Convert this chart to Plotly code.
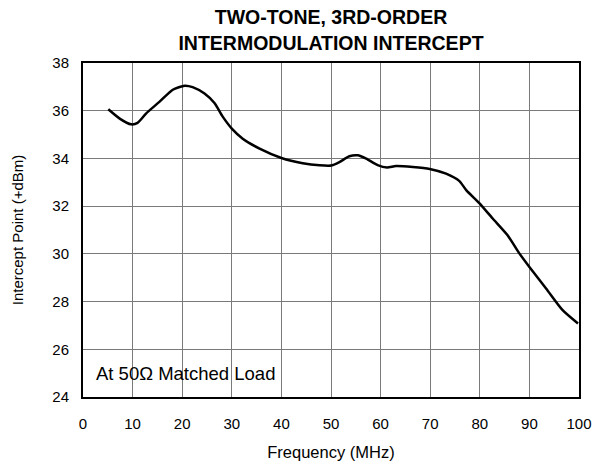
import plotly.graph_objects as go

freq_mhz = [5.1, 7.4, 9.7, 11.0, 12.7, 15.4, 18.1, 20.5, 22.1, 24.5, 26.5, 28.2, 30.0,
            32.2, 35.6, 40.0, 44.3, 47.7, 50.0, 51.7, 53.7, 55.4, 57.1, 59.4, 61.3,
            63.1, 66.5, 69.9, 73.2, 75.9, 77.3, 79.9, 82.6, 85.6, 88.0, 90.0, 93.4,
            96.7, 99.8]
intercept_dbm = [36.06, 35.67, 35.43, 35.49, 35.88, 36.37, 36.88, 37.05, 36.99, 36.72,
                 36.32, 35.74, 35.25, 34.83, 34.41, 34.02, 33.80, 33.71, 33.70, 33.85,
                 34.09, 34.13, 33.99, 33.72, 33.62, 33.68, 33.64, 33.56, 33.36, 33.05,
                 32.66, 32.13, 31.48, 30.78, 30.01, 29.45, 28.54, 27.64, 27.08]

x_ticks = [0, 10, 20, 30, 40, 50, 60, 70, 80, 90, 100]
y_ticks = [24, 26, 28, 30, 32, 34, 36, 38]

title_lines = ["TWO-TONE, 3RD-ORDER", "INTERMODULATION INTERCEPT"]
note_text = "At 50Ω Matched Load"

FONT = "Liberation Sans, Arial, Helvetica, sans-serif"

fig = go.Figure()
fig.add_trace(go.Scatter(
    x=freq_mhz, y=intercept_dbm, mode="lines",
    line=dict(color="black", width=2.5, shape="spline", smoothing=0.6),
    hoverinfo="skip", showlegend=False,
))

fig.update_layout(
    width=593, height=464,
    margin=dict(l=83, r=14, t=63, b=67, autoexpand=False),
    paper_bgcolor="white", plot_bgcolor="white",
    font=dict(family=FONT, color="black", size=15),
    showlegend=False,
    title=dict(
        text="<b>%s<br>%s</b>" % tuple(title_lines),
        font=dict(size=19.5, family=FONT, color="black"),
        x=331 / 593, xanchor="center", xref="container",
        y=1 - 24.4 / 464, yanchor="middle", yref="container",
    ),
)

fig.update_xaxes(
    range=[0, 100], tickvals=x_ticks, ticktext=[str(v) for v in x_ticks],
    showgrid=True, gridcolor="#7a7a7a", gridwidth=1,
    showline=True, linecolor="black", linewidth=2, mirror=True,
    ticks="", ticklabelstandoff=12, zeroline=False, automargin=False,
    tickfont=dict(size=15),
    title=dict(text="Frequency (MHz)", font=dict(size=16.5), standoff=15),
)
fig.update_yaxes(
    range=[24, 38], tickvals=y_ticks, ticktext=[str(v) for v in y_ticks],
    showgrid=True, gridcolor="#7a7a7a", gridwidth=1,
    showline=True, linecolor="black", linewidth=2, mirror=True,
    ticks="", ticklabelstandoff=9, zeroline=False, automargin=False,
    tickfont=dict(size=15),
    title=dict(text="Intercept Point (+dBm)", font=dict(size=15), standoff=25),
)

# white label box in the lower-left corner
fig.add_shape(type="rect", xref="x", yref="y", x0=0, x1=39.6, y0=24.28, y1=25.67,
              fillcolor="white", line=dict(width=0), layer="below")
fig.add_annotation(x=2.2, y=24.98, xref="x", yref="y", text=note_text,
                   showarrow=False, xanchor="left", yanchor="middle",
                   font=dict(size=18.5, family=FONT))

fig.write_html(
    "out.html",
    config={"displayModeBar": False, "staticPlot": True},
    post_script="document.body.style.margin='0';document.body.style.overflow='hidden';",
)
